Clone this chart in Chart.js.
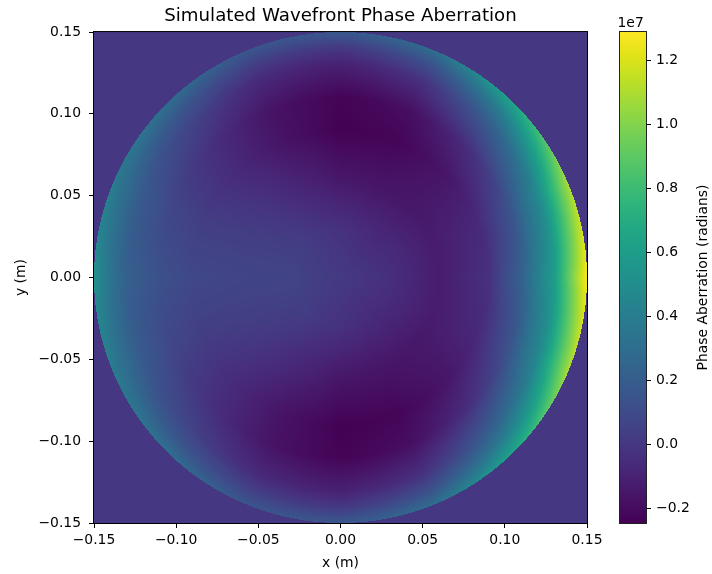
<!DOCTYPE html>
<html>
<head>
<meta charset="utf-8">
<script src="https://cdn.jsdelivr.net/npm/chart.js@4.4.0/dist/chart.umd.min.js"></script>
<style>
  html, body { margin: 0; padding: 0; background: #fff; }
  #wrap { position: relative; width: 712px; height: 574px; }
  #main { position: absolute; left: 0; top: 0; }
  #cbar { position: absolute; left: 600px; top: 0; }
</style>
</head>
<body>
<div id="wrap">
  <canvas id="main" width="640" height="574"></canvas>
  <canvas id="cbar" width="112" height="574"></canvas>
</div>
<script>
// --- Data: phase on a polar grid (units of 1e7 rad) ---
const radii = [0, 0.03, 0.06, 0.09, 0.11, 0.13, 0.14, 0.15]; // m
const angles = [0, 22.5, 45, 67.5, 90, 112.5, 135, 157.5,
                180, 202.5, 225, 247.5, 270, 292.5, 315, 337.5]; // deg
const phase = [
  [0.01, -0.04, -0.13, -0.03, 0.23, 0.60, 0.95, 1.28],   // 0
  [0.01, -0.05, -0.13, -0.07, 0.13, 0.48, 0.78, 1.09],   // 22.5
  [0.01, -0.06, -0.15, -0.16, -0.05, 0.21, 0.40, 0.66],  // 45
  [0.01, -0.05, -0.16, -0.23, -0.19, -0.03, 0.11, 0.30], // 67.5
  [0.01, -0.03, -0.15, -0.245, -0.235, -0.11, 0.00, 0.17], // 90
  [0.01, -0.01, -0.09, -0.17, -0.17, -0.07, 0.03, 0.16], // 112.5
  [0.01, 0.025, -0.02, -0.06, -0.04, 0.06, 0.16, 0.31],  // 135
  [0.01, 0.045, 0.04, 0.03, 0.07, 0.18, 0.28, 0.39],     // 157.5
  [0.01, 0.055, 0.06, 0.08, 0.13, 0.22, 0.34, 0.52],     // 180
  [0.01, 0.045, 0.04, 0.03, 0.07, 0.18, 0.28, 0.39],     // 202.5
  [0.01, 0.025, -0.02, -0.06, -0.04, 0.06, 0.16, 0.31],  // 225
  [0.01, -0.01, -0.09, -0.17, -0.17, -0.07, 0.03, 0.16], // 247.5
  [0.01, -0.03, -0.15, -0.245, -0.235, -0.11, 0.00, 0.17], // 270
  [0.01, -0.05, -0.16, -0.23, -0.19, -0.03, 0.11, 0.30], // 292.5
  [0.01, -0.06, -0.15, -0.16, -0.05, 0.21, 0.40, 0.66],  // 315
  [0.01, -0.05, -0.13, -0.07, 0.13, 0.48, 0.78, 1.09]    // 337.5
];
const outsideValue = 0;          // value outside the aperture
const phaseMin = -0.2465;        // colorbar limits
const phaseMax = 1.289;
const axisTicks = [-0.15, -0.10, -0.05, 0, 0.05, 0.10, 0.15];
const cbarTicks = [-0.2, 0, 0.2, 0.4, 0.6, 0.8, 1.0, 1.2];

// viridis colormap stops
const viridis = ['#440154', '#471365', '#482475', '#463480', '#414487', '#3b528b',
  '#355f8d', '#2f6c8e', '#2a788e', '#25848e', '#21918c', '#1e9c89', '#22a884',
  '#2fb47c', '#44bf70', '#5ec962', '#7ad151', '#9bd93c', '#bddf26', '#dfe318', '#fde725'];
const viridisRGB = viridis.map(h => [1, 3, 5].map(k => parseInt(h.slice(k, k + 2), 16)));

const FONT = 'DejaVu Sans';
const minus = s => s.replace('-', '\u2212');

function phaseAt(x, y) {
  const r = Math.hypot(x, y);
  const rMax = radii[radii.length - 1];
  if (r > rMax) return outsideValue;
  let i = 0;
  while (i < radii.length - 2 && r > radii[i + 1]) i++;
  const fr = (r - radii[i]) / (radii[i + 1] - radii[i]);
  let th = Math.atan2(y, x) * 180 / Math.PI;
  if (th < 0) th += 360;
  const step = 360 / angles.length;
  const j = Math.floor(th / step) % angles.length;
  const j2 = (j + 1) % angles.length;
  const ft = (th - angles[j]) / step;
  const a = phase[j][i] * (1 - fr) + phase[j][i + 1] * fr;
  const b = phase[j2][i] * (1 - fr) + phase[j2][i + 1] * fr;
  return a * (1 - ft) + b * ft;
}

function colorFor(v) {
  let t = (v - phaseMin) / (phaseMax - phaseMin);
  t = Math.min(1, Math.max(0, t)) * (viridisRGB.length - 1);
  const k = Math.min(Math.floor(t), viridisRGB.length - 2);
  const f = t - k;
  return [0, 1, 2].map(c => viridisRGB[k][c] + (viridisRGB[k + 1][c] - viridisRGB[k][c]) * f);
}

// --- Heatmap image drawn through the chart scales ---
const heatmap = {
  id: 'heatmap',
  beforeDatasetsDraw(chart) {
    const {ctx, chartArea: a, scales: {x, y}} = chart;
    const x0 = Math.round(a.left), y0 = Math.round(a.top);
    const w = Math.round(a.right) - x0, h = Math.round(a.bottom) - y0;
    const img = ctx.createImageData(w, h);
    for (let j = 0; j < h; j++) {
      const yv = y.getValueForPixel(y0 + j + 0.5);
      for (let i = 0; i < w; i++) {
        const xv = x.getValueForPixel(x0 + i + 0.5);
        const c = colorFor(phaseAt(xv, yv));
        const k = (j * w + i) * 4;
        img.data[k] = c[0];
        img.data[k + 1] = c[1];
        img.data[k + 2] = c[2];
        img.data[k + 3] = 255;
      }
    }
    ctx.putImageData(img, x0, y0);
  },
  afterDraw(chart) {
    const {ctx, chartArea: a} = chart;
    ctx.save();
    ctx.strokeStyle = '#000';
    ctx.lineWidth = 1;
    ctx.strokeRect(a.left - 0.5, a.top - 0.5, a.right - a.left + 1, a.bottom - a.top + 1);
    ctx.restore();
  }
};

const samples = [];
angles.forEach((ang, j) => radii.forEach((r, i) => {
  const t = ang * Math.PI / 180;
  samples.push({x: r * Math.cos(t), y: r * Math.sin(t), v: phase[j][i]});
}));

const axisStyle = (titleText, titlePad, isX) => ({
  type: 'linear',
  min: -0.15,
  max: 0.15,
  afterBuildTicks: s => { s.ticks = axisTicks.map(v => ({value: v})); },
  afterFit: s => { if (isX) s.height = 51; else s.width = 94; },
  grid: { drawOnChartArea: false, drawTicks: true, tickLength: 5, color: '#000' },
  border: { display: false },
  ticks: {
    color: '#000',
    font: { family: FONT, size: 13.9 },
    padding: isX ? 4 : 8,
    maxRotation: 0,
    autoSkip: false,
    callback: v => minus((Math.abs(v) < 1e-9 ? 0 : v).toFixed(2))
  },
  title: { display: true, text: titleText, color: '#000', font: { family: FONT, size: 13.9 }, padding: titlePad }
});

new Chart(document.getElementById('main'), {
  type: 'scatter',
  data: { datasets: [{ label: 'phase samples', data: samples, pointRadius: 0 }] },
  options: {
    responsive: false,
    devicePixelRatio: 1,
    animation: false,
    events: [],
    layout: { padding: { left: 0, right: 53, top: 0, bottom: 0 } },
    scales: {
      x: axisStyle('x (m)', { top: 0, bottom: 2.2 }, true),
      y: axisStyle('y (m)', { top: 13.4, bottom: 0 }, false)
    },
    plugins: {
      legend: { display: false },
      tooltip: { enabled: false },
      title: {
        display: true,
        fullSize: false,
        text: 'Simulated Wavefront Phase Aberration',
        color: '#000',
        font: { family: FONT, size: 18.2, weight: 'normal' },
        padding: { top: 5, bottom: 5.2 }
      }
    }
  },
  plugins: [heatmap]
});

// --- Colorbar ---
const cbarDecor = {
  id: 'cbarDecor',
  afterDraw(chart) {
    const {ctx, chartArea: a} = chart;
    ctx.save();
    ctx.strokeStyle = '#222';
    ctx.lineWidth = 1;
    ctx.strokeRect(a.left - 0.5, a.top - 0.5, a.right - a.left + 1, a.bottom - a.top + 1);
    ctx.fillStyle = '#000';
    ctx.font = '13.9px "' + FONT + '"';
    ctx.textAlign = 'left';
    ctx.textBaseline = 'alphabetic';
    ctx.fillText('1e7', 17.5, 26.5);
    ctx.translate(103, (a.top + a.bottom) / 2);
    ctx.rotate(-Math.PI / 2);
    ctx.textAlign = 'center';
    ctx.textBaseline = 'middle';
    ctx.fillText('Phase Aberration (radians)', 0, 0);
    ctx.restore();
  }
};

new Chart(document.getElementById('cbar'), {
  type: 'bar',
  data: {
    labels: ['phase'],
    datasets: [{
      data: [[phaseMin, phaseMax]],
      barPercentage: 1,
      categoryPercentage: 1,
      borderWidth: 0,
      backgroundColor: c => {
        const a = c.chart.chartArea;
        if (!a) return viridis[0];
        const g = c.chart.ctx.createLinearGradient(0, a.bottom, 0, a.top);
        viridis.forEach((col, i) => g.addColorStop(i / (viridis.length - 1), col));
        return g;
      }
    }]
  },
  options: {
    responsive: false,
    devicePixelRatio: 1,
    animation: false,
    events: [],
    layout: { padding: { left: 20, right: 0, top: 32, bottom: 51 } },
    scales: {
      x: { display: false },
      y: {
        position: 'right',
        min: phaseMin,
        max: phaseMax,
        afterBuildTicks: s => { s.ticks = cbarTicks.map(v => ({value: v})); },
        afterFit: s => { s.width = 66; },
        grid: { drawOnChartArea: false, drawTicks: true, tickLength: 5, color: '#000' },
        border: { display: false },
        ticks: {
          color: '#000',
          font: { family: FONT, size: 13.9 },
          padding: 5,
          callback: v => minus(v.toFixed(1))
        }
      }
    },
    plugins: { legend: { display: false }, tooltip: { enabled: false } }
  },
  plugins: [cbarDecor]
});
</script>
</body>
</html>
